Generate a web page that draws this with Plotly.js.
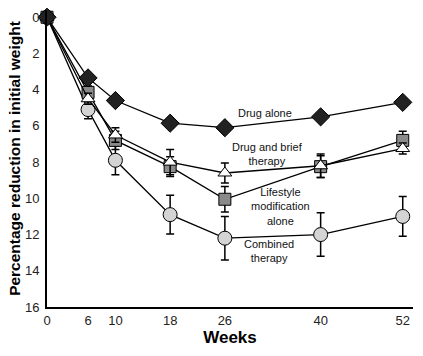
<!DOCTYPE html>
<html>
<head>
<meta charset="utf-8">
<script src="https://cdn.plot.ly/plotly-3.0.1.min.js"></script>
<style>html,body{margin:0;padding:0;background:#fff;}#chart{width:423px;height:356px;}</style>
</head>
<body>
<div id="chart"></div>
<script>
var weeks = [0, 6, 10, 18, 26, 40, 52];
var weekTicks = [0, 6, 10, 18, 26, 40, 52];

var drugAlone = [0, 3.35, 4.6, 5.85, 6.1, 5.5, 4.7];
var drugBrief = [0, 4.5, 6.5, 8.0, 8.6, 8.2, 7.25];
var drugBriefErr = [0, 0.3, 0.4, 0.7, 0.55, 0.65, 0.3];
var lifestyle = [0, 4.15, 6.8, 8.25, 10.05, 8.25, 6.8];
var lifestyleErr = [0, 0.35, 0.5, 0.55, 0.7, 0.6, 0.5];
var combined = [0, 5.1, 7.9, 10.9, 12.2, 12.0, 11.0];
var combinedErr = [0, 0.5, 0.8, 1.07, 1.2, 1.2, 1.1];

var labelNames = ["Drug alone", "Drug and brief<br>therapy", "Lifestyle<br>modification<br>alone", "Combined<br>therapy"];
var labelX = [31.9, 32.3, 34.2, 32.4];
var labelY = [5.3, 7.55, 10.45, 12.9];

function errCfg(arr) {
  return {type: 'data', array: arr, visible: true, color: '#000', thickness: 1.5, width: 4};
}

var lineStyle = {color: '#000', width: 1.3};
var traces = [
  {x: weeks, y: combined, mode: 'lines+markers', line: lineStyle, cliponaxis: false,
   error_y: errCfg(combinedErr),
   marker: {symbol: 'circle', size: 14, color: '#d4d4d4', line: {color: '#000', width: 1}}},
  {x: weeks, y: lifestyle, mode: 'lines+markers', line: lineStyle, cliponaxis: false,
   error_y: errCfg(lifestyleErr),
   marker: {symbol: 'square', size: 12, color: '#8a8a8a', line: {color: '#000', width: 1}}},
  {x: weeks, y: drugBrief, mode: 'lines+markers', line: lineStyle, cliponaxis: false,
   error_y: errCfg(drugBriefErr),
   marker: {symbol: 'triangle-up', size: 12, color: '#ffffff', line: {color: '#000', width: 1}}},
  {x: weeks, y: drugAlone, mode: 'lines+markers', line: lineStyle, cliponaxis: false,
   marker: {symbol: 'diamond', size: 14, color: '#222', line: {color: '#000', width: 1}}}
];

var annotations = labelNames.map(function (t, i) {
  return {x: labelX[i], y: labelY[i], xref: 'x', yref: 'y', text: t, showarrow: false,
          font: {family: 'Liberation Sans, Arial, sans-serif', size: 11, color: '#111'},
          align: 'center'};
});

var layout = {
  width: 423, height: 356,
  margin: {l: 47, r: 10, t: 10, b: 49},
  paper_bgcolor: '#fff', plot_bgcolor: '#fff',
  showlegend: false,
  font: {family: 'Liberation Sans, Arial, sans-serif', color: '#111'},
  xaxis: {
    range: [0, 53.5], tickvals: weekTicks, ticktext: weekTicks.map(String),
    showgrid: false, zeroline: false, showline: true, linecolor: '#000', linewidth: 2,
    ticks: '', tickfont: {size: 13, color: '#222'},
    title: {text: 'Weeks', font: {size: 17, color: '#000', weight: 'bold'}, standoff: 4}
  },
  yaxis: {
    range: [16, -0.4], tickvals: [0, 2, 4, 6, 8, 10, 12, 14, 16],
    showgrid: false, zeroline: false, showline: true, linecolor: '#000', linewidth: 2,
    ticks: '', ticklabelstandoff: 3, tickfont: {size: 13, color: '#222'},
    title: {text: 'Percentage reduction in initial weight', font: {size: 15.5, color: '#000', weight: 'bold'}, standoff: 1}
  },
  annotations: annotations
};

Plotly.newPlot('chart', traces, layout, {displayModeBar: false, staticPlot: true});
</script>
</body>
</html>
